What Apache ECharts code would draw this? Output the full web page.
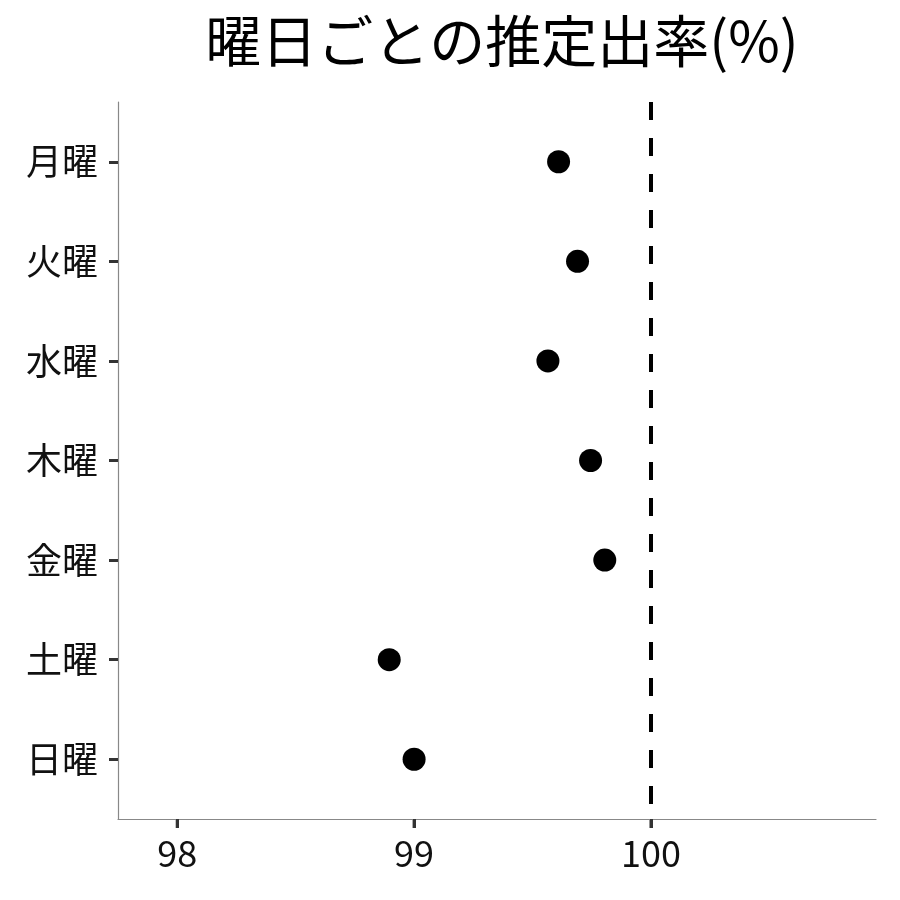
<!DOCTYPE html>
<html>
<head>
<meta charset="utf-8">
<script src="https://cdn.jsdelivr.net/npm/echarts@6/dist/echarts.min.js"></script>
<style>
html, body { margin: 0; padding: 0; background: #fff; }
#chart { width: 900px; height: 900px; }
</style>
</head>
<body>
<div id="chart"></div>
<script>
var days = ['月曜', '火曜', '水曜', '木曜', '金曜', '土曜', '日曜'];
var rates = [99.61, 99.69, 99.565, 99.745, 99.805, 98.895, 99.0];
var xTicks = [98, 99, 100];
var refLine = 100;

// 曜日の位置は 1..7（y 軸の範囲に 0 を含めない）
var points = [];
var dayPos = [];
for (var i = 0; i < days.length; i++) {
    points.push([rates[i], i + 1]);
    dayPos.push(i + 1);
}

var myChart = echarts.init(document.getElementById('chart'));
var font = '"Noto Sans CJK JP", "Noto Sans", sans-serif';
option = {
    backgroundColor: '#ffffff',
    animation: false,
    title: {
        text: '曜日ごとの推定出率(%)',
        left: 497,
        top: 8,
        textAlign: 'center',
        textStyle: { fontFamily: font, fontSize: 56, fontWeight: 'normal', color: '#000' }
    },
    grid: { left: 118, right: 24, top: 102, bottom: 81 },
    xAxis: {
        type: 'value',
        min: 97.75,
        max: 100.95,
        splitLine: { show: false },
        axisLine: { show: true, lineStyle: { color: '#888', width: 1.2 } },
        axisTick: { show: true, customValues: xTicks, length: 9, lineStyle: { color: '#333', width: 3 } },
        axisLabel: {
            customValues: xTicks,
            fontFamily: font, fontSize: 36, color: '#111', margin: 16
        }
    },
    yAxis: {
        type: 'value',
        min: 0.4,
        max: 7.6,
        inverse: true,
        splitLine: { show: false },
        axisLine: { show: true, lineStyle: { color: '#888', width: 1.2 } },
        axisTick: { show: true, customValues: dayPos, length: 9, lineStyle: { color: '#333', width: 3 } },
        axisLabel: {
            customValues: dayPos,
            formatter: function (v) { return days[v - 1]; },
            fontFamily: font, fontSize: 36, color: '#111', margin: 20
        }
    },
    series: [
        {
            type: 'scatter',
            data: points,
            symbolSize: 23,
            itemStyle: { color: '#000', opacity: 1 },
            markLine: {
                silent: true,
                symbol: 'none',
                label: { show: false },
                lineStyle: { color: '#000', type: [18, 18], width: 4, opacity: 1 },
                data: [{ xAxis: refLine }]
            }
        }
    ]
};
myChart.setOption(option);

// x 軸の目盛りが描かれない場合の保険：軸のスケールから位置を求めて描く
var yBottom = myChart.convertToPixel({ yAxisIndex: 0 }, 7.6);
var tickMarks = [];
for (var i = 0; i < xTicks.length; i++) {
    var px = myChart.convertToPixel({ xAxisIndex: 0 }, xTicks[i]);
    tickMarks.push({
        type: 'line',
        shape: { x1: px, y1: yBottom, x2: px, y2: yBottom + 9 },
        style: { stroke: '#333', lineWidth: 3 },
        silent: true
    });
}
myChart.setOption({ graphic: tickMarks });
</script>
</body>
</html>
